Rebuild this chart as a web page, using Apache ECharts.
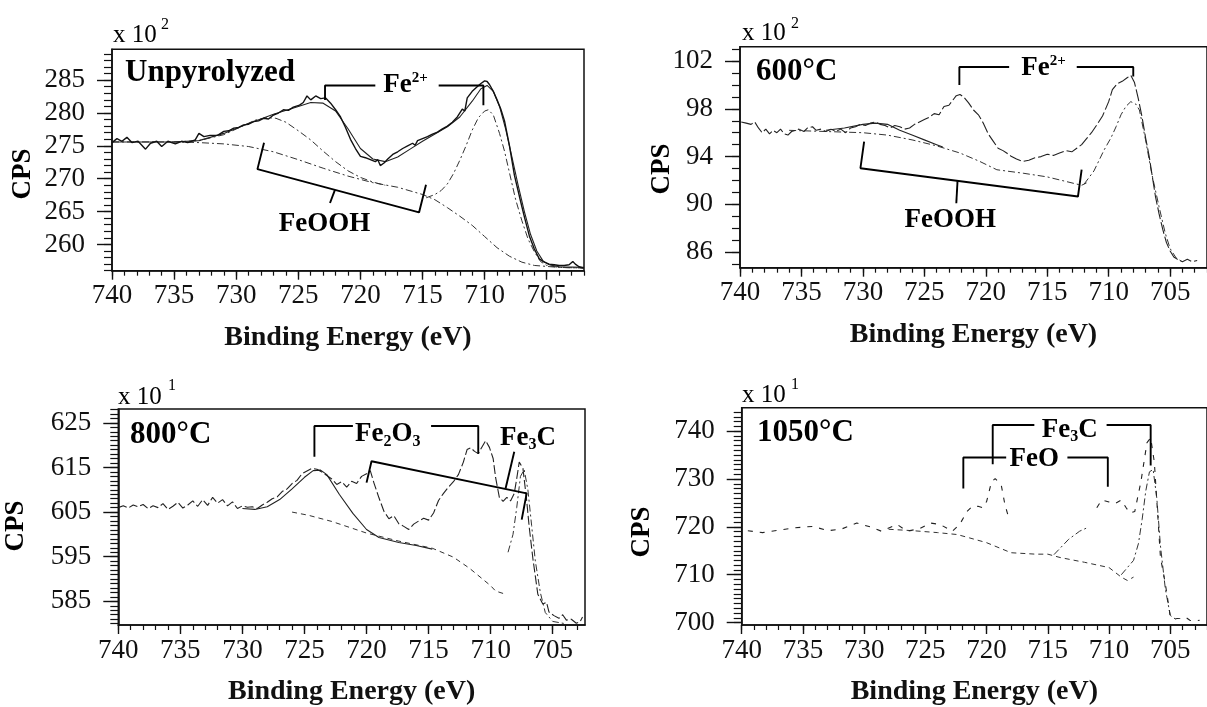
<!DOCTYPE html>
<html>
<head>
<meta charset="utf-8">
<title>Fe 2p XPS spectra</title>
<script src="https://cdn.jsdelivr.net/npm/echarts@6.0.0/dist/echarts.min.js"></script>
<style>
  html, body { margin: 0; padding: 0; background: #fff; }
  #chart { width: 1207px; height: 707px; }
</style>
</head>
<body>
<div id="chart"></div>
<script>
// tick labels
const beTicks = [740, 735, 730, 725, 720, 715, 710, 705];
const unpyTicks = [260, 265, 270, 275, 280, 285];
const t600Ticks = [86, 90, 94, 98, 102];
const t800Ticks = [585, 595, 605, 615, 625];
const t1050Ticks = [700, 710, 720, 730, 740];

// --- Unpyrolyzed (x 10^2 CPS), [binding energy, cps] ---
const unpyData = [[740.0,275.5],[739.6,276.1],[739.2,275.7],[738.8,276.3],[738.4,275.5],[737.9,275.7],[737.3,274.5],[736.9,275.4],[736.4,275.7],[736.0,274.9],[735.5,275.7],[734.9,275.3],[734.4,275.7],[733.9,275.5],[733.3,275.9],[733.0,276.9],[732.6,276.4],[732.1,276.6],[731.5,276.6],[731.0,277.2],[730.6,277.3],[730.2,277.7],[729.8,277.8],[729.4,278.2],[729.0,278.3],[728.6,278.7],[728.2,278.8],[727.8,279.2],[727.4,279.1],[727.0,279.7],[726.6,280.0],[726.2,280.5],[725.8,280.4],[725.4,280.9],[724.9,281.2],[724.6,281.6],[724.3,282.6],[724.0,282.0],[723.6,282.6],[723.2,282.2],[722.8,282.3],[722.4,281.5],[722.0,280.5],[721.6,279.4],[721.2,277.8],[720.8,276.0],[720.4,274.6],[720.0,273.4],[719.6,273.2],[719.2,272.9],[718.8,272.6],[718.6,272.9],[718.4,272.0],[718.1,272.4],[717.8,273.0],[717.4,273.7],[717.0,274.1],[716.6,274.6],[716.2,275.0],[715.8,275.4],[715.6,275.1],[715.4,275.8],[715.0,276.1],[714.6,276.4],[714.2,276.8],[713.8,277.1],[713.4,277.6],[713.0,278.0],[712.6,278.6],[712.2,279.4],[711.8,280.6],[711.6,280.3],[711.4,282.3],[711.0,283.3],[710.6,284.0],[710.3,284.5],[710.0,284.9],[709.8,284.8],[709.6,284.3],[709.3,283.3],[709.0,282.0],[708.7,280.6],[708.4,278.8],[708.0,275.0],[707.6,270.5],[707.2,267.3],[706.8,264.2],[706.4,261.3],[706.0,259.3],[705.6,257.8],[705.2,257.3],[704.8,257.0],[704.4,256.9],[704.0,256.8],[703.6,256.8],[703.2,256.9],[702.9,257.4],[702.7,257.0],[702.4,256.6],[702.0,256.4]];
const unpyEnvelope = [[740,275.6],[735,275.6],[733,275.8],[731,276.9],[729,278.4],[727,279.8],[725,281.0],[724,281.6],[723,281.5],[722,280.3],[721,277.6],[720,274.6],[719,273.0],[718,272.6],[717,273.3],[716,274.5],[715,275.7],[714,276.8],[713,277.9],[712,279.4],[711,281.8],[710.3,283.7],[709.8,284.2],[709.3,283.3],[708.8,281.0],[708.3,277.5],[707.8,273.3],[707.3,269.0],[706.8,265.0],[706.3,261.5],[705.8,259.0],[705.3,257.5],[704.8,256.9],[704,256.6],[702,256.5]];
const unpyBackground = [[740,275.6],[735,275.6],[733,275.5],[731,275.3],[729,274.9],[727,274.1],[725,272.9],[723,271.6],[721,270.4],[719,269.4],[717,268.7],[715,267.6],[714,266.8],[713,265.6],[712,264.3],[711,262.9],[710,261.2],[709,259.5],[708,258.2],[707,257.3],[706,256.8],[704,256.5],[702,256.4]];
const unpyFeOOH = [[735,275.6],[733,275.8],[731,276.7],[729.5,278.0],[728.5,278.9],[727.5,279.3],[726.8,279.2],[726,278.6],[725,277.3],[724,275.9],[723,274.2],[722,272.6],[721,271.2],[720,270.2],[719,269.5],[718,269.0]];
const unpyFe2 = [[714.7,267.1],[714,267.6],[713.5,268.2],[713,269.2],[712.5,270.8],[712,272.8],[711.5,275.0],[711,277.4],[710.5,279.3],[710,280.3],[709.7,280.5],[709.3,279.7],[708.8,276.9],[708.4,274.2],[708,270.9],[707.5,266.8],[707,263.6],[706.5,260.8],[706,258.9],[705.5,257.4],[705,256.8],[704,256.5],[702,256.4]];

// --- 600 C (x 10^2 CPS) ---
const t600Data = [[739.9,96.9],[739.5,96.8],[739.1,96.7],[738.8,96.9],[738.5,96.4],[738.2,96.0],[737.9,96.3],[737.6,95.9],[737.3,96.2],[737.0,96.0],[736.7,96.3],[736.4,95.9],[736.1,95.8],[735.8,96.1],[735.5,96.2],[735.2,96.3],[734.8,96.1],[734.5,96.4],[734.1,96.5],[733.8,96.2],[733.4,96.3],[733.0,96.1],[732.6,96.3],[732.2,96.1],[731.8,96.3],[731.4,96.0],[731.0,96.4],[730.6,96.5],[730.2,96.7],[729.8,96.6],[729.4,96.8],[729.0,96.9],[728.6,96.7],[728.2,96.6],[727.8,96.4],[727.4,96.6],[727.0,96.5],[726.6,96.3],[726.2,96.4],[725.8,96.7],[725.4,96.9],[725.0,97.1],[724.6,97.3],[724.2,97.6],[723.8,97.5],[723.4,98.2],[723.0,98.3],[722.7,98.7],[722.4,99.1],[722.1,99.2],[721.8,99.0],[721.4,98.5],[721.0,97.9],[720.6,97.5],[720.2,96.8],[719.8,95.9],[719.4,95.3],[719.0,94.7],[718.6,94.5],[718.3,94.3],[717.9,94.0],[717.5,93.8],[717.0,93.6],[716.5,93.7],[716.0,93.9],[715.5,94.0],[715.0,94.2],[714.5,94.1],[714.0,94.3],[713.5,94.5],[713.0,94.4],[712.6,94.7],[712.2,95.0],[711.8,95.5],[711.4,96.0],[711.0,96.6],[710.5,97.4],[710.0,98.6],[709.7,99.6],[709.3,100.1],[708.9,100.3],[708.5,100.6],[708.2,100.8],[707.9,100.2],[707.6,98.9],[707.3,97.4],[707.0,95.6],[706.7,94.0],[706.4,92.0],[706.2,90.7],[705.9,89.2],[705.6,87.9],[705.3,86.8],[705.0,86.1],[704.7,85.6],[704.4,85.4],[704.0,85.2],[703.6,85.4],[703.2,85.2],[702.8,85.3]];
const t600Background = [[736,96.2],[733,96.1],[730,96.0],[728,95.8],[726,95.4],[724,94.9],[722.1,94.3],[720.5,93.6],[719.1,92.9],[716.9,92.6],[715,92.3],[712.2,91.6],[711.8,91.8]];
const t600FeOOH = [[733,96.2],[731.5,96.4],[730,96.7],[729,96.8],[728,96.7],[727,96.2],[726,95.8],[725,95.4],[724,95.0],[723.5,94.8]];
const t600Fe2 = [[712,91.7],[711.2,92.8],[710.4,94.5],[709.8,95.6],[709.4,96.5],[709.0,97.5],[708.6,98.2],[708.2,98.6],[707.8,98.4],[707.5,97.9],[707.0,95.4],[706.5,92.6],[705.9,89.8],[705.4,87.6],[705.0,86.3],[704.5,85.5],[704,85.2]];

// --- 800 C (x 10^1 CPS) ---
const t800Data = [[740.0,606.0],[739.6,606.4],[739.2,605.9],[738.8,606.6],[738.4,606.2],[738.0,606.7],[737.6,605.8],[737.2,606.4],[736.8,606.0],[736.4,606.9],[736.0,605.6],[735.6,606.3],[735.2,607.2],[734.8,605.9],[734.4,606.6],[734.0,607.5],[733.6,606.3],[733.2,607.8],[732.8,606.5],[732.4,608.3],[732.0,607.0],[731.6,607.8],[731.2,606.4],[730.8,607.3],[730.4,605.8],[730.0,606.4],[729.6,606.1],[729.2,606.2],[728.8,605.8],[728.4,606.6],[728.0,607.2],[727.6,608.0],[727.2,608.4],[726.8,609.6],[726.4,610.2],[726.0,611.4],[725.6,612.1],[725.2,613.6],[724.8,614.2],[724.4,614.8],[724.0,614.6],[723.6,614.0],[723.2,613.2],[722.8,612.4],[722.4,611.2],[722.0,611.8],[721.6,610.6],[721.2,611.9],[720.8,611.4],[720.4,613.0],[720.0,613.6],[719.7,614.3],[719.4,611.5],[719.0,608.2],[718.6,605.2],[718.2,603.5],[717.8,604.2],[717.4,602.4],[717.0,601.8],[716.6,601.1],[716.2,602.3],[715.8,603.0],[715.4,603.6],[715.0,603.2],[714.6,604.8],[714.2,607.6],[713.8,609.2],[713.4,610.6],[713.0,611.8],[712.6,613.4],[712.2,616.2],[711.9,619.0],[711.6,619.4],[711.3,618.6],[711.0,618.1],[710.7,619.6],[710.4,621.0],[710.1,619.5],[709.8,617.0],[709.6,612.7],[709.3,608.3],[709.0,607.4],[708.7,608.3],[708.4,607.5],[708.1,609.2],[707.9,612.5],[707.7,616.2],[707.4,614.8],[707.1,607.6],[706.9,601.8],[706.6,594.6],[706.2,586.6],[705.8,584.4],[705.5,584.8],[705.3,582.6],[704.9,581.8],[704.5,581.2],[704.2,582.0],[703.9,580.8],[703.5,581.0],[703.1,580.1],[702.8,580.4],[702.6,581.5]];
const t800Fe2O3 = [[730,605.8],[729,605.6],[728,606.2],[727,607.8],[726,610.2],[725,612.8],[724.3,614.3],[723.7,614.4],[723.2,613.4],[722.2,609.0],[721.1,604.7],[720,601.1],[719,599.3],[717.4,598.2],[716,597.5],[714.7,596.7]];
const t800Background = [[726,605.0],[724.7,604.3],[722.8,602.9],[720,600.3],[717.4,598.5],[714.7,596.9],[713,594.9],[711.7,592.4],[710,588.5],[709.6,587.3],[708.8,586.6]];
const t800Fe3C = [[708.6,596.0],[708.2,600.0],[707.9,606.0],[707.6,613.0],[707.3,614.5],[707.0,610.0],[706.7,602.0],[706.4,594.0],[706.0,587.0],[705.6,582.5],[705.0,580.5],[704,580.0]];

// --- 1050 C (x 10^1 CPS) ---
const t1050Data = [[739.5,719.2],[738.3,718.8],[737,719.3],[735.7,719.8],[734.2,720.1],[732.9,719.2],[731.8,719.6],[730.6,720.8],[729.5,720.0],[728.6,719.1],[727.3,720.5],[726.5,719.1],[725.5,719.6],[724.6,720.8],[723.8,720.5],[722.8,719.1],[722.2,720.5],[721.6,723.2],[721.2,724.2],[720.7,724.3],[720.3,724.0],[720.0,725.3],[719.6,729.4],[719.3,730.1],[718.8,728.7],[718.5,724.6],[718.2,722.0],null,[711.0,724.0],[710.6,725.6],[710.0,725.2],[709.5,724.9],[709.0,725.6],[708.6,724.0],[708.3,722.9],[707.9,723.2],[707.4,729.4],[706.9,737.6],[706.6,738.6],[706.3,733.5],[705.8,713.6],[705.4,708.1],[705.0,701.3],[704.6,700.8],[704.2,700.9],[703.8,701.2],[703.4,700.5],[703.1,700.3],[702.6,700.5]];
const t1050Background = [[728,719.5],[726,719.2],[724,718.8],[722.4,718.4],[721.4,717.7],[720,716.7],[718,714.6],[716,714.3],[715,714.3],[714,713.6],[712,712.6],[710,711.5],[709,709.5],[708.5,708.8],[708,709.5]];
const t1050FeO = [[714.5,714.2],[713.3,717.4],[712.4,719.1],[711.8,719.8]];
const t1050Fe3C = [[709,710.0],[708,713.0],[707.6,716.5],[707.3,721.5],[707.0,727.5],[706.7,731.5],[706.4,732.0],[706.1,726.0],[705.8,716.0],[705.4,707.0],[705.0,701.5],[704.5,700.6]];

// peak assignment brackets, in data units
const unpyFe2Left = [[722.85,282.0],[722.85,284.2],[718.8,284.2]];
const unpyFe2Right = [[713.7,284.2],[710.1,284.2],[710.1,281.2]];
const unpyFeOOHBox = [[727.76,275.46],[728.29,271.46],[715.28,264.87],[714.72,269.08]];
const unpyFeOOHStem = [[722.05,268.3],[722.45,266.3]];
const t600Fe2Left = [[722.15,100.0],[722.15,101.5],[718.1,101.5]];
const t600Fe2Right = [[712.6,101.5],[708.0,101.5],[708.0,100.7]];
const t600FeOOHBox = [[729.9,95.26],[730.2,93.03],[712.5,90.66],[712.2,92.9]];
const t600FeOOHStem = [[722.3,91.95],[722.4,90.1]];
const t800Fe2O3Left = [[724.2,617.4],[724.2,624.3],[721.1,624.3]];
const t800Fe2O3Right = [[714.8,624.3],[711.0,624.3],[711.0,618.1]];
const t800Fe3CBox = [[720.0,611.6],[719.6,616.4],[707.1,609.2],[707.5,603.3]];
const t800Fe3CStem = [[708.1,618.5],[708.8,610.3]];
const t1050Fe3CLeft = [[719.5,733.1],[719.5,741.3],[716.1,741.3]];
const t1050Fe3CRight = [[710.2,741.3],[706.6,741.3],[706.6,732.8]];
const t1050FeOLeft = [[721.9,728.0],[721.9,734.5],[718.4,734.5]];
const t1050FeORight = [[713.4,734.5],[710.1,734.5],[710.1,728.4]];

const SERIF = '"Liberation Serif", "DejaVu Serif", serif';
const INK = '#111';

function range(a, b) {
    let out = [];
    for (let v = Math.ceil(a); v <= b; v++) out.push(v);
    return out;
}

function xAxisPair(grid, min) {
    const base = {type: 'value', gridIndex: grid, inverse: true, min: min, max: 740, position: 'bottom', splitLine: {show: false}};
    return [
        Object.assign({}, base, {
            axisLine: {show: true, onZero: false, lineStyle: {color: INK, width: 1.6}},
            axisTick: {show: true, customValues: beTicks, length: 9, lineStyle: {color: INK, width: 1.4}},
            axisLabel: {customValues: beTicks, margin: 12, color: INK, fontFamily: SERIF, fontSize: 27},
            name: 'Binding Energy (eV)', nameLocation: 'middle', nameGap: 53,
            nameTextStyle: {color: INK, fontFamily: SERIF, fontWeight: 'bold', fontSize: 28}
        }),
        Object.assign({}, base, {
            axisLine: {show: false, onZero: false},
            axisTick: {show: true, customValues: range(min, 740), length: 5, lineStyle: {color: INK, width: 1.2}},
            axisLabel: {show: false}
        })
    ];
}

function yAxisPair(grid, min, max, ticks) {
    const base = {type: 'value', gridIndex: grid, min: min, max: max, position: 'left', splitLine: {show: false}};
    return [
        Object.assign({}, base, {
            axisLine: {show: true, onZero: false, lineStyle: {color: INK, width: 1.6}},
            axisTick: {show: true, customValues: ticks, length: 15, lineStyle: {color: INK, width: 1.4}},
            axisLabel: {customValues: ticks, margin: 27, color: INK, fontFamily: SERIF, fontSize: 27}
        }),
        Object.assign({}, base, {
            axisLine: {show: false, onZero: false},
            axisTick: {show: true, customValues: range(min, max), length: 8, lineStyle: {color: INK, width: 1.2}},
            axisLabel: {show: false}
        })
    ];
}

const solid = {color: INK, width: 1.4};
const smooth = {color: '#222', width: 1.1};
const dashDot = {color: '#333', width: 1, type: [7, 3, 2, 3]};
const dashed = {color: '#333', width: 1, type: [5, 4]};
const bracket = {color: '#000', width: 1.9};

function line(grid, pts, style, z) {
    return {
        type: 'line', xAxisIndex: grid * 2, yAxisIndex: grid * 2, data: pts,
        symbol: 'none', lineStyle: style, silent: true, z: z || 2, connectNulls: false
    };
}

const richText = {
    b: {fontFamily: SERIF, fontWeight: 'bold', fontSize: 27, color: '#000', lineHeight: 30},
    sup: {fontFamily: SERIF, fontWeight: 'bold', fontSize: 15, color: '#000', lineHeight: 17, verticalAlign: 'top'},
    sub: {fontFamily: SERIF, fontWeight: 'bold', fontSize: 16, color: '#000', lineHeight: 14, verticalAlign: 'bottom'}
};

function tag(grid, be, v, text) {
    return {
        type: 'scatter', xAxisIndex: grid * 2, yAxisIndex: grid * 2, data: [[be, v]],
        symbolSize: 0, silent: true, z: 5, itemStyle: {opacity: 1},
        label: {show: true, opacity: 1, color: '#000', position: [0, 0], align: 'center', verticalAlign: 'middle', formatter: text, rich: richText}
    };
}

const series = [
    // unpyrolyzed
    line(0, unpyBackground, dashDot), line(0, unpyFeOOH, dashDot), line(0, unpyFe2, dashDot),
    line(0, unpyEnvelope, smooth), line(0, unpyData, solid, 3),
    line(0, unpyFe2Left, bracket, 4), line(0, unpyFe2Right, bracket, 4),
    line(0, unpyFeOOHBox, bracket, 4), line(0, unpyFeOOHStem, bracket, 4),
    tag(0, 716.37, 284.2, '{b|Fe}{sup|2+}'), tag(0, 722.9, 263.1, '{b|FeOOH}'),
    // 600 C
    line(1, t600Background, dashDot), line(1, t600FeOOH, smooth), line(1, t600Fe2, dashDot),
    line(1, t600Data, {color: '#222', width: 1.1, type: [12, 3]}, 3),
    line(1, t600Fe2Left, bracket, 4), line(1, t600Fe2Right, bracket, 4),
    line(1, t600FeOOHBox, bracket, 4), line(1, t600FeOOHStem, bracket, 4),
    tag(1, 715.3, 101.4, '{b|Fe}{sup|2+}'), tag(1, 722.9, 88.7, '{b|FeOOH}'),
    // 800 C
    line(2, t800Background, dashed), line(2, t800Fe2O3, smooth), line(2, t800Fe3C, dashDot),
    line(2, t800Data, {color: '#222', width: 1.1, type: [9, 3]}, 3),
    line(2, t800Fe2O3Left, bracket, 4), line(2, t800Fe2O3Right, bracket, 4),
    line(2, t800Fe3CBox, bracket, 4), line(2, t800Fe3CStem, bracket, 4),
    tag(2, 718.3, 622.4, '{b|Fe}{sub|2}{b|O}{sub|3}'), tag(2, 707.0, 621.7, '{b|Fe}{sub|3}{b|C}'),
    // 1050 C
    line(3, t1050Background, dashed), line(3, t1050FeO, dashDot), line(3, t1050Fe3C, dashDot),
    line(3, t1050Data, {color: '#222', width: 1.1, type: [5, 7]}, 3),
    line(3, t1050Fe3CLeft, bracket, 4), line(3, t1050Fe3CRight, bracket, 4),
    line(3, t1050FeOLeft, bracket, 4), line(3, t1050FeORight, bracket, 4),
    tag(3, 713.2, 740.3, '{b|Fe}{sub|3}{b|C}'), tag(3, 716.1, 734.2, '{b|FeO}')
];

function txt(x, y, text, size, weight) {
    return {
        type: 'text', x: x, y: y, silent: true,
        style: {text: text, fontFamily: SERIF, fontSize: size, fontWeight: weight || 'normal', fill: '#000', align: 'left', verticalAlign: 'middle'}
    };
}

function cps(x, y) {
    return {
        type: 'text', x: x, y: y, rotation: Math.PI / 2, silent: true,
        style: {text: 'CPS', fontFamily: SERIF, fontSize: 27, fontWeight: 'bold', fill: '#000', align: 'center', verticalAlign: 'middle'}
    };
}

const graphics = [
    cps(23, 174), cps(662, 169), cps(16, 526), cps(642, 532),
    // multipliers
    txt(113, 35, 'x 10', 25), txt(161, 25, '2', 16),
    txt(742, 33, 'x 10', 25), txt(791, 24, '2', 16),
    txt(118, 397, 'x 10', 25), txt(168, 386, '1', 16),
    txt(742, 395, 'x 10', 25), txt(791, 385, '1', 16),
    // panel names
    txt(125, 73, 'Unpyrolyzed', 31, 'bold'),
    txt(756, 72, '600°C', 31, 'bold'),
    txt(130, 435, '800°C', 31, 'bold'),
    txt(757, 433, '1050°C', 31, 'bold')
];

const chart = echarts.init(document.getElementById('chart'));
chart.setOption({
    animation: false,
    backgroundColor: '#fff',
    grid: [
        {left: 112, top: 49.3, width: 472, height: 221.4, show: true, borderColor: INK, borderWidth: 1.5},
        {left: 740, top: 46.7, width: 472, height: 221, show: true, borderColor: INK, borderWidth: 1.5},
        {left: 118.3, top: 409, width: 466.7, height: 222.7, show: true, borderColor: INK, borderWidth: 1.5},
        {left: 741.7, top: 407.7, width: 472, height: 221.6, show: true, borderColor: INK, borderWidth: 1.5}
    ],
    xAxis: [].concat(xAxisPair(0, 702), xAxisPair(1, 702), xAxisPair(2, 702.4), xAxisPair(3, 702)),
    yAxis: [].concat(yAxisPair(0, 256, 289.7, unpyTicks), yAxisPair(1, 84.7, 103.2, t600Ticks),
        yAxisPair(2, 579.7, 628.1, t800Ticks), yAxisPair(3, 699.5, 744.9, t1050Ticks)),
    series: series,
    graphic: graphics
});
</script>
</body>
</html>
